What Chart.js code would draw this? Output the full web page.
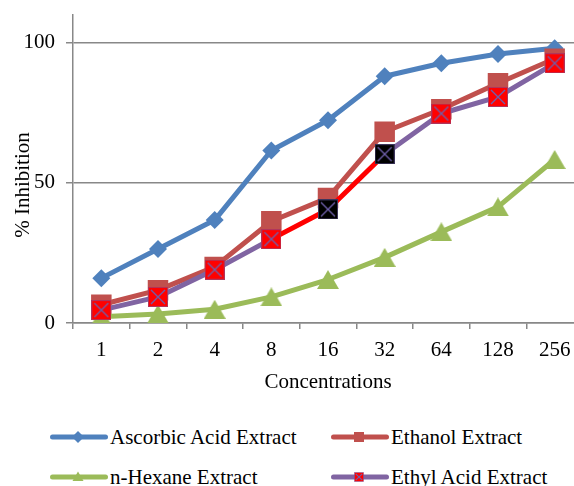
<!DOCTYPE html>
<html><head><meta charset="utf-8">
<script src="https://cdn.jsdelivr.net/npm/chart.js@4.4.1/dist/chart.umd.min.js"></script>
<style>
html,body{margin:0;padding:0;background:#fff;overflow:hidden;width:574px;height:486px;position:relative;}
#wrap{position:absolute;left:0;top:0;width:600px;height:400px;}
.t{position:absolute;font-family:'Liberation Serif','Times New Roman',serif;color:#000;white-space:nowrap;}
#ytitle{font-size:21px;line-height:24px;width:200px;text-align:center;left:-78.5px;top:172.5px;transform:rotate(-90deg);}
.lg{position:absolute;}
.lt{font-size:21px;line-height:24px;}
</style></head><body>
<div id="wrap"><canvas id="c" width="600" height="400"></canvas></div>
<div class="t" id="ytitle">% Inhibition</div>
<div id="legend"></div>
<script>
// ---- data ----
const categories = ['1','2','4','8','16','32','64','128','256'];
const seriesNames = ['Ascorbic Acid Extract','Ethanol Extract','n-Hexane Extract','Ethyl Acid Extract'];
const ascorbic = [16.0, 26.4, 36.7, 61.5, 72.3, 88.0, 92.6, 95.9, 98.0];
const ethanol  = [6.5, 11.7, 20.0, 36.3, 44.6, 68.2, 76.2, 85.5, 94.2];
const hexane   = [2.2, 3.2, 4.9, 9.3, 15.5, 23.4, 32.5, 41.4, 58.3];
const ethyl    = [4.6, 9.3, 19.0, 29.9, 40.5, 60.2, 74.7, 80.6, 92.6];
const yTickValues = [0, 50, 100];
const xTitle = 'Concentrations';

// ---- styles ----
const BLUE='#4F81BD', RED='#C0504D', GREEN='#9BBB59', PURPLE='#8064A2', BRIGHT='#FF0000';
const ethylBlackMarker = [0,0,0,0,1,1,0,0,0];
const ethylRedSegment  = [0,0,0,1,1,0,0,0];
const FONT = "'Liberation Serif','Times New Roman',serif";

function xMarker(fill, size){
  const c=document.createElement('canvas'); c.width=size; c.height=size;
  const g=c.getContext('2d');
  g.fillStyle=fill; g.fillRect(0,0,size,size);
  g.strokeStyle='rgba(112,96,168,0.55)'; g.lineWidth=1; g.strokeRect(0.5,0.5,size-1,size-1);
  g.strokeStyle='#6F5FAA'; g.lineWidth=1.4;
  const p=size*0.15;
  g.beginPath(); g.moveTo(p,p); g.lineTo(size-p,size-p); g.moveTo(size-p,p); g.lineTo(p,size-p); g.stroke();
  return c;
}
function triMarker(w,h,color){
  const c=document.createElement('canvas'); c.width=w; c.height=h;
  const g=c.getContext('2d'); g.fillStyle=color;
  g.beginPath(); g.moveTo(w/2,0); g.lineTo(w,h); g.lineTo(0,h); g.closePath(); g.fill();
  return c;
}
const redX = xMarker(BRIGHT,20), blackX = xMarker('#000',20);
const tri = triMarker(22,19,GREEN);

const chart = new Chart(document.getElementById('c'), {
  type:'line',
  data:{
    labels: categories,
    datasets:[
      {label:seriesNames[0], data:ascorbic, borderColor:BLUE, backgroundColor:BLUE, borderWidth:5,
       pointStyle:'rectRot', pointRadius:9, pointBorderWidth:0, order:4},
      {label:seriesNames[1], data:ethanol, borderColor:RED, backgroundColor:RED, borderWidth:5,
       pointStyle:'rect', pointRadius:14.5, pointBorderWidth:0, order:3},
      {label:seriesNames[2], data:hexane, borderColor:GREEN, backgroundColor:GREEN, borderWidth:5,
       pointStyle:tri, pointRadius:10, pointBorderWidth:0, order:2},
      {label:seriesNames[3], data:ethyl, borderColor:PURPLE, backgroundColor:BRIGHT, borderWidth:5,
       pointStyle: ethylBlackMarker.map(b=>b?blackX:redX), pointRadius:10, pointBorderWidth:0, order:1,
       segment:{borderColor: ctx => ethylRedSegment[ctx.p0DataIndex] ? BRIGHT : PURPLE}}
    ]
  },
  options:{
    responsive:false, animation:false, devicePixelRatio:1,
    elements:{line:{tension:0, borderJoinStyle:'round', borderCapStyle:'round'}},
    layout:{padding:{top:11.7, right:17, left:0, bottom:0}},
    plugins:{legend:{display:false}, tooltip:{enabled:false}},
    scales:{
      x:{
        offset:true,
        grid:{display:true, drawOnChartArea:false, drawTicks:true, tickLength:6, offset:true, color:'#888', lineWidth:1.5},
        border:{display:true, color:'#888', width:1.5},
        ticks:{color:'#000', font:{family:FONT, size:21}, padding:9, maxRotation:0, autoSkip:false},
        title:{display:true, text:xTitle, color:'#000', font:{family:FONT, size:21}, padding:{top:0,bottom:5}},
        afterFit: s => { s.height = 77; }
      },
      y:{
        min:0, max:110,
        ticks:{stepSize:50, color:'#000', font:{family:FONT, size:21}, padding:11},
        afterBuildTicks: s => { s.ticks = yTickValues.map(v=>({value:v})); },
        grid:{color:'#888', lineWidth:1.5, tickLength:7, drawTicks:true},
        border:{display:true, color:'#888', width:1.5},
        afterFit: s => { s.width = 73; s.paddingTop = 0; s.paddingBottom = 0; }
      }
    }
  }
});

// ---- HTML legend ----
const legendPos = [[50,437],[331,437],[50,477],[331,477]];
const lineCols = [BLUE, RED, GREEN, PURPLE];
function symbolSVG(i){
  const c=lineCols[i];
  let m='';
  if(i===0) m=`<polygon points="28,1 34,7 28,13 22,7" fill="${BLUE}"/>`;
  if(i===1) m=`<rect x="23" y="2" width="10" height="10" fill="${RED}"/>`;
  if(i===2) m=`<polygon points="28,1.5 33.5,11 22.5,11" fill="${GREEN}"/>`;
  if(i===3) m=`<rect x="23.5" y="2.5" width="9" height="9" fill="${BRIGHT}" stroke="rgba(112,96,168,0.6)" stroke-width="0.8"/><path d="M24.8 3.8 L31.2 10.2 M31.2 3.8 L24.8 10.2" stroke="#6F5FAA" stroke-width="1.2"/>`;
  return `<svg width="58" height="14" viewBox="0 0 58 14"><line x1="2.5" y1="7" x2="55.5" y2="7" stroke="${c}" stroke-width="5" stroke-linecap="round"/>${m}</svg>`;
}
const lg=document.getElementById('legend');
seriesNames.forEach((n,i)=>{
  const [x,y]=legendPos[i];
  const s=document.createElement('div'); s.className='lg'; s.style.left=x+'px'; s.style.top=(y-7)+'px'; s.innerHTML=symbolSVG(i);
  const t=document.createElement('div'); t.className='t lt'; t.style.left=(x+60)+'px'; t.style.top=(y-12)+'px'; t.textContent=n;
  lg.appendChild(s); lg.appendChild(t);
});
</script>
</body></html>
